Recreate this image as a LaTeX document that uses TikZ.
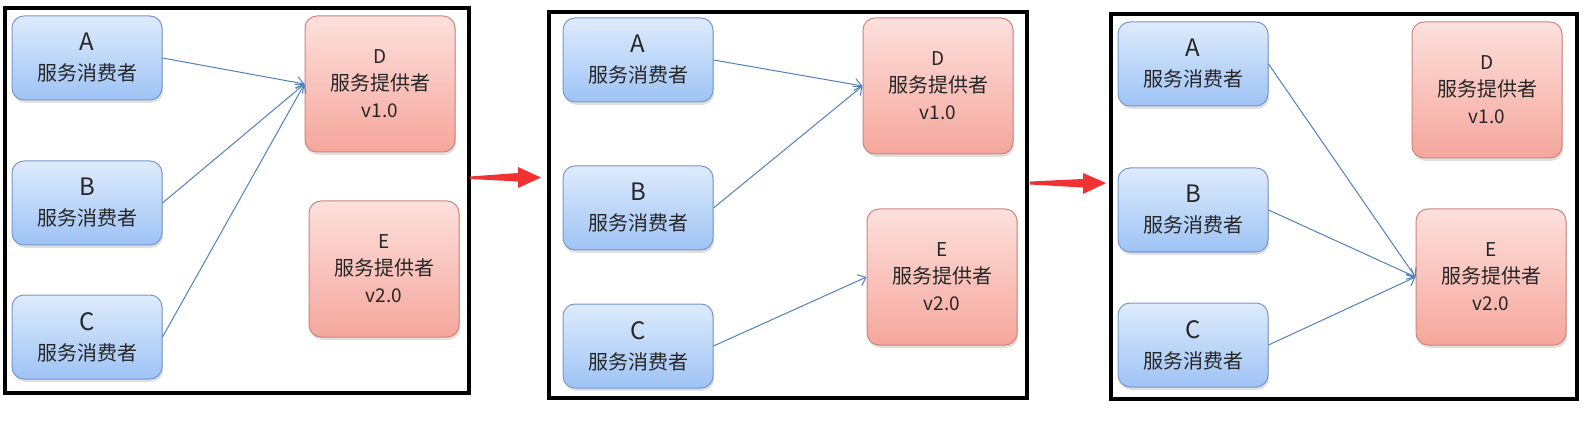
\documentclass[tikz,border=0pt]{standalone}
\usepackage{fontspec}
\setmainfont{Noto Sans CJK SC}
\usetikzlibrary{shadows,arrows.meta}

\definecolor{consumerTop}{RGB}{222,235,252}
\definecolor{consumerBot}{RGB}{158,195,245}
\definecolor{consumerLine}{RGB}{118,152,205}
\definecolor{providerTop}{RGB}{253,224,220}
\definecolor{providerBot}{RGB}{245,166,156}
\definecolor{providerLine}{RGB}{204,134,124}
\definecolor{linkBlue}{RGB}{79,129,189}
\definecolor{stepRed}{RGB}{240,50,50}

\tikzset{
  box/.style={rounded corners=6pt, line width=0.5pt, align=center, text=black!85, inner sep=0pt,
    drop shadow={opacity=0.25, shadow xshift=0.6pt, shadow yshift=-1.4pt}},
  consumer/.style={box, draw=consumerLine, top color=consumerTop, bottom color=consumerBot,
    minimum width=75pt, minimum height=42pt, font=\fontsize{10}{15}\selectfont},
  provider/.style={box, draw=providerLine, top color=providerTop, bottom color=providerBot,
    minimum width=75pt, minimum height=68pt, font=\fontsize{10}{13.5}\selectfont},
  link/.style={draw=linkBlue, line width=0.5pt, -{Straight Barb[length=3.5pt,width=6pt]}},
  frame/.style={draw=black, line width=2pt},
  steparrow/.style={fill=stepRed, draw=none}
}
\newcommand\letter[1]{{\fontsize{12}{15}\selectfont #1}}
\newcommand\ver[1]{{\fontsize{9.5}{13.5}\selectfont #1}}

\begin{document}
\begin{tikzpicture}[x=0.5pt,y=-0.5pt]
\useasboundingbox (0,0) rectangle (1594,422);

% panel 1: all consumers on D
\draw[frame] (5,8) rectangle (469,393);
\node[consumer] (a1) at (87,58) {\letter{A}\\服务消费者};
\node[consumer] (b1) at (87,203) {\letter{B}\\服务消费者};
\node[consumer] (c1) at (87,337) {\letter{C}\\服务消费者};
\node[provider] (d1) at (380,84) {\ver{D}\\服务提供者\\\ver{v1.0}};
\node[provider] (e1) at (384,269) {\ver{E}\\服务提供者\\\ver{v2.0}};
\draw[link] (a1.east) -- (d1.west);
\draw[link] (b1.east) -- (d1.west);
\draw[link] (c1.east) -- (d1.west);

% step arrow 1
\fill[steparrow] (470,176.5) -- (518,173) -- (518,167) -- (541,177.5) -- (518,188) -- (518,181.5) -- (470,179) -- cycle;

% panel 2: C moved to E
\draw[frame] (549,12) rectangle (1027,398);
\node[consumer] (a2) at (638,60) {\letter{A}\\服务消费者};
\node[consumer] (b2) at (638,208) {\letter{B}\\服务消费者};
\node[consumer] (c2) at (638,346) {\letter{C}\\服务消费者};
\node[provider] (d2) at (938,86) {\ver{D}\\服务提供者\\\ver{v1.0}};
\node[provider] (e2) at (942,277) {\ver{E}\\服务提供者\\\ver{v2.0}};
\draw[link] (a2.east) -- (d2.west);
\draw[link] (b2.east) -- (d2.west);
\draw[link] (c2.east) -- (e2.west);

% step arrow 2
\fill[steparrow] (1030,181.5) -- (1083,179) -- (1083,173) -- (1106,183) -- (1083,194) -- (1083,187.5) -- (1030,184.5) -- cycle;

% panel 3: all consumers on E
\draw[frame] (1111,14) rectangle (1577,399);
\node[consumer] (a3) at (1193,64) {\letter{A}\\服务消费者};
\node[consumer] (b3) at (1193,210) {\letter{B}\\服务消费者};
\node[consumer] (c3) at (1193,345) {\letter{C}\\服务消费者};
\node[provider] (d3) at (1487,90) {\ver{D}\\服务提供者\\\ver{v1.0}};
\node[provider] (e3) at (1491,277) {\ver{E}\\服务提供者\\\ver{v2.0}};
\draw[link] (a3.east) -- (e3.west);
\draw[link] (b3.east) -- (e3.west);
\draw[link] (c3.east) -- (e3.west);
\end{tikzpicture}
\end{document}
